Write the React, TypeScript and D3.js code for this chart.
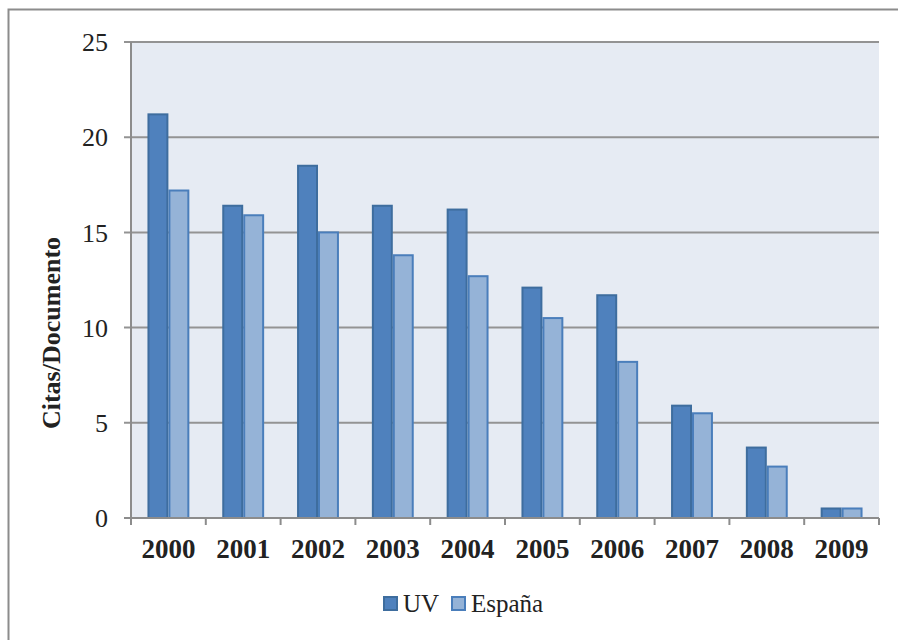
import { useEffect, useRef } from 'react';
import * as d3 from 'd3';

const years = ['2000', '2001', '2002', '2003', '2004', '2005', '2006', '2007', '2008', '2009'];
const uvValues = [21.2, 16.4, 18.5, 16.4, 16.2, 12.1, 11.7, 5.9, 3.7, 0.5];
const espanaValues = [17.2, 15.9, 15.0, 13.8, 12.7, 10.5, 8.2, 5.5, 2.7, 0.5];
const seriesNames = ['UV', 'España'];
const yTicks = [0, 5, 10, 15, 20, 25];

const fills = ['#4F81BD', '#95B3D7'];
const strokes = ['#3E6D9E', '#4A7EBB'];
const font = '"Liberation Serif", "DejaVu Serif", serif';

const App = () => {
  const svgRef = useRef(null);

  useEffect(() => {
    drawChart();
  }, []);

  const drawChart = () => {
    const width = 898;
    const height = 640;
    const left = 131, right = 879, top = 42, bottom = 518;

    const svg = d3.select(svgRef.current);
    svg.selectAll('*').remove();

    // outer chart border (runs off the right/bottom edge)
    svg.append('rect')
      .attr('x', 8.5).attr('y', 9.5)
      .attr('width', width + 20).attr('height', height + 20)
      .attr('fill', '#fff').attr('stroke', '#8c8c8c').attr('stroke-width', 2);

    const x = d3.scaleBand().domain(years).range([left, right]).padding(0);
    const y = d3.scaleLinear().domain([0, 25]).range([bottom, top]);
    const bw = x.bandwidth();
    const x1 = d3.scaleBand().domain(seriesNames).range([bw * 0.22, bw * 0.78]).padding(0);

    svg.append('rect')
      .attr('x', left).attr('y', top)
      .attr('width', right - left).attr('height', bottom - top)
      .attr('fill', '#E6EBF3');

    // gridlines
    svg.append('g')
      .selectAll('line')
      .data(yTicks.filter(d => d > 0))
      .join('line')
      .attr('x1', left - 7).attr('x2', right)
      .attr('y1', d => y(d)).attr('y2', d => y(d))
      .attr('stroke', '#939393').attr('stroke-width', 2);

    // y tick labels
    svg.append('g')
      .selectAll('text')
      .data(yTicks)
      .join('text')
      .attr('x', 108).attr('y', d => y(d))
      .attr('dy', '0.35em')
      .attr('text-anchor', 'end')
      .style('font-family', font).style('font-size', '26px').attr('fill', '#222')
      .text(d => d);

    // bars
    const data = [uvValues, espanaValues];
    data.forEach((vals, si) => {
      svg.append('g')
        .selectAll('rect')
        .data(vals)
        .join('rect')
        .attr('x', (d, i) => x(years[i]) + x1(seriesNames[si]) + 1)
        .attr('y', d => y(d))
        .attr('width', x1.bandwidth() - 2)
        .attr('height', d => bottom - y(d))
        .attr('fill', fills[si])
        .attr('stroke', strokes[si])
        .attr('stroke-width', 2);
    });

    // axes lines
    svg.append('line')
      .attr('x1', left).attr('x2', left).attr('y1', top).attr('y2', bottom + 7)
      .attr('stroke', '#8c8c8c').attr('stroke-width', 2);
    svg.append('line')
      .attr('x1', left - 7).attr('x2', right).attr('y1', bottom).attr('y2', bottom)
      .attr('stroke', '#8c8c8c').attr('stroke-width', 2);

    const bounds = years.map(yr => x(yr)).concat([right]);
    svg.append('g')
      .selectAll('line')
      .data(bounds)
      .join('line')
      .attr('x1', d => d).attr('x2', d => d)
      .attr('y1', bottom).attr('y2', bottom + 7)
      .attr('stroke', '#8c8c8c').attr('stroke-width', 2);

    // year labels
    svg.append('g')
      .selectAll('text')
      .data(years)
      .join('text')
      .attr('x', d => x(d) + bw / 2)
      .attr('y', 558)
      .attr('text-anchor', 'middle')
      .style('font-family', font).style('font-size', '27px').style('font-weight', 'bold')
      .attr('fill', '#222')
      .text(d => d);

    // y axis title
    svg.append('text')
      .attr('transform', `translate(60, 333) rotate(-90)`)
      .attr('text-anchor', 'middle')
      .style('font-family', font).style('font-size', '26px').style('font-weight', 'bold')
      .attr('fill', '#222')
      .text('Citas/Documento');

    // legend
    const legendX = [383, 451];
    seriesNames.forEach((name, i) => {
      svg.append('rect')
        .attr('x', legendX[i] + 1).attr('y', 597)
        .attr('width', 13).attr('height', 13)
        .attr('fill', fills[i]).attr('stroke', strokes[i]).attr('stroke-width', 2);
      svg.append('text')
        .attr('x', legendX[i] + 20).attr('y', 612)
        .style('font-family', font).style('font-size', '25px')
        .attr('fill', '#222')
        .text(name);
    });
  };

  return (
    <svg ref={svgRef} width={898} height={640}
      style={{ position: 'absolute', left: 0, top: 0, display: 'block' }} />
  );
};

export default App;
